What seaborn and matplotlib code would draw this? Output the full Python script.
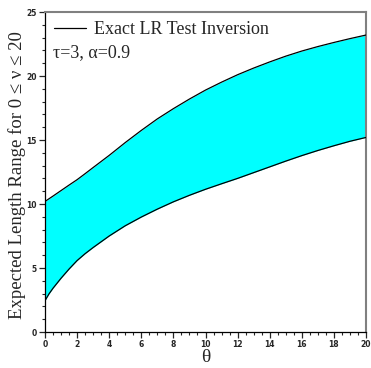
import numpy as np
import pandas as pd
import matplotlib
matplotlib.use("Agg")
import matplotlib.pyplot as plt
import seaborn as sns
from matplotlib.ticker import MultipleLocator

theta = [0, 0.25, 0.5, 1, 1.5, 2, 2.5, 3, 4, 5, 6, 7, 8, 9, 10, 11, 12, 13, 14, 15, 16, 17, 18, 19, 20]
upper = [10.2, 10.41, 10.62, 11.05, 11.48, 11.9, 12.37, 12.85, 13.8, 14.8, 15.75, 16.65, 17.45, 18.2, 18.9,
         19.52, 20.1, 20.62, 21.1, 21.55, 21.95, 22.3, 22.62, 22.92, 23.2]
lower = [2.45, 2.98, 3.42, 4.2, 4.92, 5.58, 6.12, 6.6, 7.5, 8.3, 8.98, 9.6, 10.17, 10.68, 11.15,
         11.58, 12.0, 12.45, 12.9, 13.35, 13.78, 14.18, 14.55, 14.9, 15.2]

sns.set_style("ticks")
plt.rcParams['font.family'] = ['Liberation Serif', 'DejaVu Serif']

fig = plt.figure(figsize=(3.71, 3.68), dpi=100)
ax = fig.add_axes([45/371, 36/368, 321/371, 320/368])

df = pd.DataFrame({"theta": theta, "upper": upper, "lower": lower})
ax.fill_between(df["theta"], df["lower"], df["upper"], color="#00FFFF", lw=0, zorder=1)
sns.lineplot(data=df, x="theta", y="upper", color="black", lw=0.9, ax=ax,
             label="Exact LR Test Inversion", zorder=3)
sns.lineplot(data=df, x="theta", y="lower", color="black", lw=0.9, ax=ax, zorder=3)

ax.set_xlim(0, 20)
ax.set_ylim(0, 25)
ax.xaxis.set_major_locator(MultipleLocator(2))
ax.xaxis.set_minor_locator(MultipleLocator(0.5))
ax.yaxis.set_major_locator(MultipleLocator(5))
ax.yaxis.set_minor_locator(MultipleLocator(1))
ax.tick_params(which="major", direction="out", length=4, width=0.9, pad=2)
ax.tick_params(which="minor", direction="out", length=2, width=0.8)
for lab in ax.get_xticklabels() + ax.get_yticklabels():
    lab.set_fontfamily(['DejaVu Sans'])
    lab.set_fontweight('bold')
    lab.set_fontsize(5.5)

for s in ["top", "right"]:
    ax.spines[s].set_visible(True)
    ax.spines[s].set_color("#808080")
    ax.spines[s].set_linewidth(1.5)
for s in ["left", "bottom"]:
    ax.spines[s].set_color("black")
    ax.spines[s].set_linewidth(0.9)

ax.set_xlabel("θ", fontsize=14, labelpad=0)
ax.set_ylabel("Expected Length Range for 0 ≤ ν ≤ 20", fontsize=13.5)
ax.yaxis.set_label_coords(-0.058, 0.49)

leg = ax.legend(loc="upper left", frameon=False, fontsize=13, handlelength=1.75,
                borderaxespad=0.1, handletextpad=0.45, bbox_to_anchor=(0.0, 1.0))
ax.text(0.025, 0.9, "τ=3, α=0.9", transform=ax.transAxes, fontsize=13,
        ha="left", va="top")

fig.savefig("out.png", dpi=100)
